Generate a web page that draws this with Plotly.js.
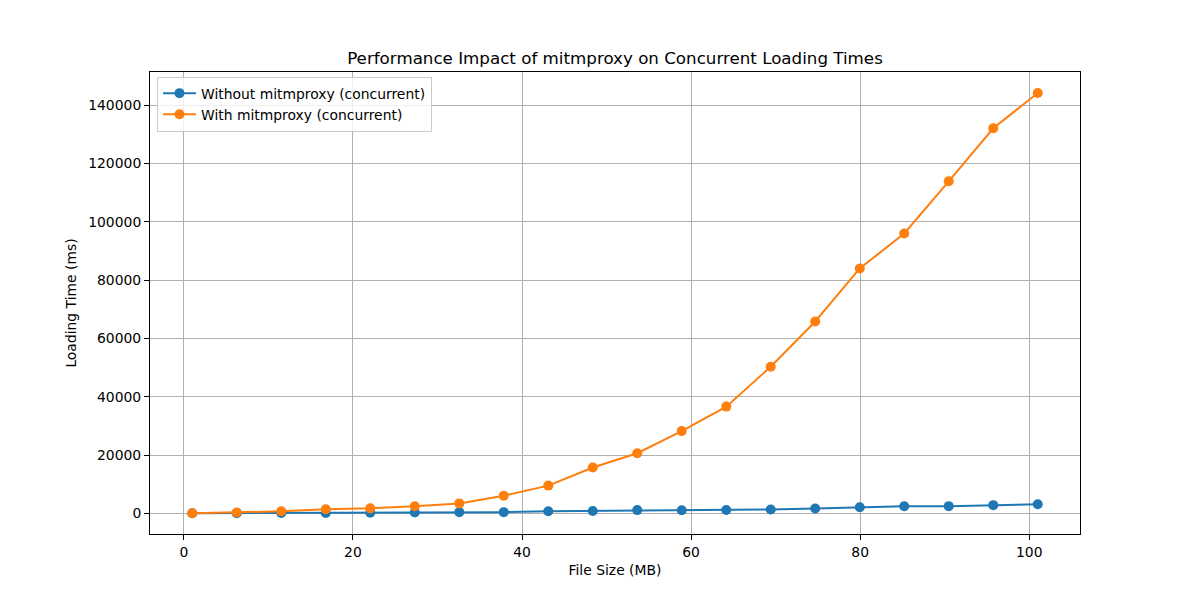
<!DOCTYPE html>
<html>
<head>
<meta charset="utf-8">
<script src="https://cdn.plot.ly/plotly-3.0.1.min.js"></script>
<style>html,body{margin:0;padding:0;background:#fff;}#chart{width:1200px;height:600px;}</style>
</head>
<body>
<div id="chart"></div>
<script>
const fileSizes = [1, 6.26, 11.53, 16.79, 22.05, 27.32, 32.58, 37.84, 43.11, 48.37, 53.63, 58.89, 64.16, 69.42, 74.68, 79.95, 85.21, 90.47, 95.74, 101];
const withoutProxy = [0, 50, 100, 80, 200, 300, 400, 400, 700, 800, 1100, 1050, 1150, 1300, 1650, 2100, 2400, 2450, 2800, 3100];
const withProxy = [0, 300, 700, 1400, 1700, 2400, 3400, 6000, 9500, 15700, 20600, 28200, 36600, 50300, 65800, 84000, 96000, 113900, 132100, 144200];
const seriesNames = ["Without mitmproxy (concurrent)", "With mitmproxy (concurrent)"];

const font = {family: "DejaVu Sans, sans-serif", size: 13.9, color: "#000"};

const traces = [
  {x: fileSizes, y: withoutProxy, name: seriesNames[0], mode: "lines+markers",
   line: {color: "#1f77b4", width: 2}, marker: {color: "#1f77b4", size: 10}},
  {x: fileSizes, y: withProxy, name: seriesNames[1], mode: "lines+markers",
   line: {color: "#ff7f0e", width: 2}, marker: {color: "#ff7f0e", size: 10}}
];

const axisCommon = {
  showline: true, mirror: true, linecolor: "#000", linewidth: 1,
  ticks: "outside", ticklen: 5, tickwidth: 1, tickcolor: "#000",
  showgrid: true, gridcolor: "#b0b0b0", gridwidth: 1, zeroline: false,
  tickfont: font
};

const layout = {
  width: 1200, height: 600,
  margin: {l: 150, r: 120, t: 72, b: 66},
  paper_bgcolor: "#fff", plot_bgcolor: "#fff",
  font: font,
  title: {text: "Performance Impact of mitmproxy on Concurrent Loading Times",
          font: {family: "DejaVu Sans, sans-serif", size: 16.7, color: "#000"},
          x: 0.5125, xanchor: "center", y: 0.903, yanchor: "middle"},
  xaxis: Object.assign({}, axisCommon, {
    range: [-4, 106], tickvals: [0, 20, 40, 60, 80, 100],
    title: {text: "File Size (MB)", font: font, standoff: 6}
  }),
  yaxis: Object.assign({}, axisCommon, {
    range: [-7100, 151400], tickvals: [0, 20000, 40000, 60000, 80000, 100000, 120000, 140000],
    tickformat: "d",
    title: {text: "Loading Time (ms)", font: font, standoff: 8}
  }),
  showlegend: true,
  legend: {x: 0.0075, y: 0.99, xanchor: "left", yanchor: "top",
           bgcolor: "rgba(255,255,255,0.8)", bordercolor: "#cccccc", borderwidth: 1,
           font: font, tracegroupgap: 0, itemwidth: 33}
};

Plotly.newPlot("chart", traces, layout, {displayModeBar: false, staticPlot: true});
</script>
</body>
</html>
